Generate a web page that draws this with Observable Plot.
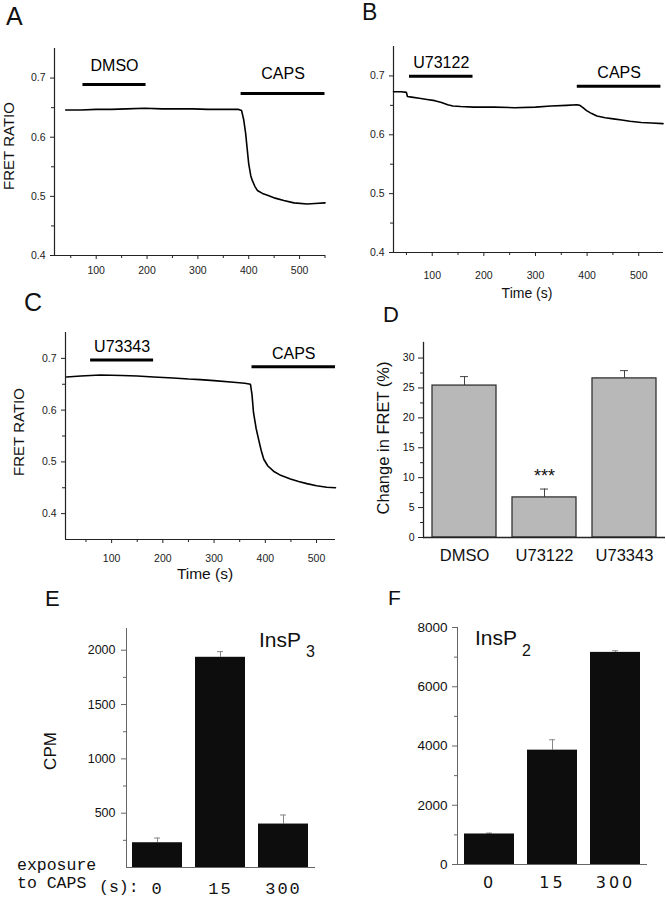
<!DOCTYPE html>
<html><head><meta charset="utf-8">
<script src="https://cdn.jsdelivr.net/npm/d3@7"></script>
<script src="https://cdn.jsdelivr.net/npm/@observablehq/plot@0.6"></script>
<style>
body{margin:0;background:#fff;}
#fig{position:relative;width:666px;height:899px;overflow:hidden;font-family:"Liberation Sans",Arial,sans-serif;color:#111;background:#fff;}
#fig svg{position:absolute;}
.lbl{position:absolute;white-space:nowrap;line-height:1;}
</style></head><body><div id="fig"></div><script>
// ---------- DATA ----------
// Panel A: DMSO then CAPS
const aTime  = [40, 70, 100, 130, 160, 195, 230, 260, 290, 320, 350, 380, 386, 390, 394, 397, 400, 404, 407, 412, 417, 427, 437, 452, 469, 489, 515, 530, 550];
const aRatio = [0.646,0.646,0.647,0.647,0.648,0.649,0.648,0.648,0.648,0.647,0.647,0.647,0.645,0.630,0.606,0.580,0.555,0.535,0.527,0.517,0.510,0.505,0.502,0.497,0.493,0.489,0.487,0.488,0.489];
const aTreat = ["DMSO", "CAPS"];
const aTreatStart = [74, 385];
const aTreatEnd = [198, 550];
const aTreatLevel = [0.689, 0.674];

// Panel B: U73122 then CAPS
const bTime  = [25, 40, 50, 52, 60, 75, 90, 105, 118, 130, 140, 155, 180, 220, 260, 300, 330, 360, 380, 386, 392, 399, 409, 419, 435, 451, 467, 483, 505, 525, 547];
const bRatio = [0.673,0.673,0.672,0.665,0.664,0.662,0.660,0.658,0.655,0.651,0.649,0.648,0.647,0.647,0.646,0.647,0.649,0.650,0.651,0.650,0.646,0.641,0.636,0.632,0.629,0.627,0.625,0.623,0.621,0.620,0.619];
const bTreat = ["U73122", "CAPS"];
const bTreatStart = [56, 381];
const bTreatEnd = [179, 543];
const bTreatLevel = [0.6995, 0.6825];

// Panel C: U73343 then CAPS
const cTime  = [12, 40, 78, 120, 150, 182, 220, 250, 273, 300, 338, 360, 371, 374, 377, 382, 387, 392, 397, 405, 416, 430, 449, 465, 481, 500, 520, 537];
const cRatio = [0.664,0.666,0.668,0.667,0.666,0.664,0.662,0.660,0.659,0.657,0.654,0.652,0.650,0.630,0.595,0.565,0.543,0.522,0.505,0.492,0.482,0.474,0.467,0.462,0.458,0.454,0.451,0.450];
const cTreat = ["U73343", "CAPS"];
const cTreatStart = [59, 374];
const cTreatEnd = [182, 537];
const cTreatLevel = [0.697, 0.684];

const ratioTicks = [0.4, 0.5, 0.6, 0.7];
const ratioMinor = [0.45, 0.55, 0.65];
const timeTicks = [100, 200, 300, 400, 500];
const timeMinor = [50, 150, 250, 350, 450, 550];

// Panel D
const dTreatments = ["DMSO", "U73122", "U73343"];
const dChange = [25.4, 6.7, 26.6];
const dSem = [1.5, 1.4, 1.3];
const dSignif = ["", "***", ""];
const dTicks = [0, 5, 10, 15, 20, 25, 30];
const dMinor = [2.5, 7.5, 12.5, 17.5, 22.5, 27.5];

// Panel E: InsP3
const exposure = ["0", "15", "300"];
const insP3 = [228, 1935, 400];
const insP3Err = [43, 52, 83];
const insP3Ticks = [500, 1000, 1500, 2000];
const insP3Minor = [250, 750, 1250, 1750];

// Panel F: InsP2
const insP2 = [1030, 3860, 7160];
const insP2Err = [30, 350, 55];
const insP2Ticks = [0, 2000, 4000, 6000, 8000];
const insP2Minor = [1000, 3000, 5000, 7000];

// ---------- HELPERS ----------
const fig = document.getElementById("fig");
const FONT = '"Liberation Sans", Arial, Helvetica, sans-serif';
const MONO = '"Liberation Mono", "Courier New", monospace';

function margins(box, frame) {
  return {
    width: box.w, height: box.h,
    marginLeft: frame[0] - box.left,
    marginRight: box.left + box.w - frame[1],
    marginTop: frame[2] - box.top,
    marginBottom: box.top + box.h - frame[3]
  };
}
function place(svg, box) {
  svg.style.position = "absolute";
  svg.style.left = box.left + "px";
  svg.style.top = box.top + "px";
  svg.style.maxWidth = "none";
  fig.appendChild(svg);
  return svg;
}
function addText(html, x, baseline, size, opt = {}) {
  const d = document.createElement("div");
  d.className = "lbl";
  d.innerHTML = html;
  const mono = opt.mono;
  const k = mono ? 0.7665 : 0.8465;
  d.style.fontSize = size + "px";
  if (mono) d.style.fontFamily = MONO;
  d.style.left = x + "px";
  d.style.top = (baseline - k * size) + "px";
  if (opt.center) d.style.transform = "translateX(-50%)";
  if (opt.style) Object.assign(d.style, opt.style);
  fig.appendChild(d);
}
function addRotated(text, cx, cy, size) {
  const d = document.createElement("div");
  d.className = "lbl";
  d.textContent = text;
  d.style.fontSize = size + "px";
  d.style.left = cx + "px";
  d.style.top = cy + "px";
  d.style.transform = "translate(-50%,-50%) rotate(-90deg)";
  fig.appendChild(d);
}

function tracePanel(o) {
  const pts = o.t.map((t, i) => ({t, v: o.v[i]}));
  const bars = o.labels.map((label, i) => ({label, x1: o.start[i], x2: o.end[i], y: o.level[i]}));
  const inX = d => d >= o.xDomain[0] && d <= o.xDomain[1];
  return Plot.plot({
    ...margins(o.box, o.frame),
    style: {fontFamily: FONT, fontSize: "10.5px", color: "#222", background: "transparent", overflow: "visible"},
    x: {domain: o.xDomain, label: null},
    y: {domain: o.yDomain, label: null},
    marks: [
      Plot.ruleX([o.xDomain[0]], {stroke: "#222", strokeWidth: 1.2}),
      Plot.ruleY([o.yDomain[0]], {stroke: "#222", strokeWidth: 1.2}),
      Plot.axisY(ratioTicks, {tickSize: 4, tickPadding: 5, tickFormat: ".1f", label: null, stroke: "#222", fontSize: 10.5}),
      Plot.axisY(ratioMinor, {tickSize: 3, tickFormat: () => "", label: null, stroke: "#222"}),
      Plot.axisX(timeTicks.filter(inX), {tickSize: 4, tickPadding: o.xPad, tickFormat: "d", label: null, stroke: "#222", fontSize: 10.5}),
      Plot.axisX(timeMinor.filter(inX), {tickSize: 3, tickFormat: () => "", label: null, stroke: "#222"}),
      Plot.line(pts, {x: "t", y: "v", stroke: "#000", strokeWidth: 1.6}),
      Plot.ruleY(bars, {x1: "x1", x2: "x2", y: "y", stroke: "#000", strokeWidth: 3}),
      Plot.text(bars, {x: d => (d.x1 + d.x2) / 2, y: "y", text: "label", dy: -o.labelGap, lineAnchor: "bottom", fontSize: 16, fill: "#000"})
    ]
  });
}

function barPanel(o) {
  const rows = o.cats.map((c, i) => ({c, v: o.vals[i], top: o.vals[i] + o.errs[i], s: o.signif ? o.signif[i] : ""}));
  const svg = Plot.plot({
    ...margins(o.box, o.frame),
    style: {fontFamily: FONT, fontSize: o.yFont + "px", color: "#111", background: "transparent", overflow: "visible"},
    x: {domain: o.cats, paddingInner: 0.2, paddingOuter: 0.1, label: null},
    y: {domain: o.yDomain, label: null},
    marks: [
      Plot.ruleX(rows, {x: "c", y1: "v", y2: "top", stroke: o.errColor, strokeWidth: 1}),
      Plot.tickY(rows, {x: "c", y: "top", stroke: o.errColor, strokeWidth: 1, insetLeft: o.capInset, insetRight: o.capInset}),
      Plot.barY(rows, {x: "c", y: "v", fill: o.fill, stroke: o.barStroke, strokeWidth: o.barStrokeWidth}),
      Plot.text(rows, {x: "c", y: "top", text: "s", dy: -7, lineAnchor: "bottom", fontSize: 18, fill: "#111"}),
      Plot.frame({anchor: "left", stroke: o.axisColor, strokeWidth: o.axisWidth}),
      Plot.ruleY([0], {stroke: o.axisColor, strokeWidth: o.axisWidth}),
      Plot.axisY(o.ticks, {tickSize: 5, tickPadding: o.yPad, tickFormat: "d", label: null, stroke: o.axisColor, fill: "#111", fontSize: o.yFont}),
      Plot.axisY(o.minor, {tickSize: 3, tickFormat: () => "", label: null, stroke: o.axisColor}),
      Plot.axisX({tickSize: 0, tickPadding: o.xPad, label: null, fontSize: o.xFont, fontFamily: o.xFamily, fill: "#111"})
    ]
  });
  if (o.letterSpacing) {
    svg.querySelectorAll('g[aria-label="x-axis tick label"] text').forEach(t => t.setAttribute("letter-spacing", o.letterSpacing));
  }
  return svg;
}

// ---------- PANELS ----------
const boxA = {left: 0, top: 0, w: 340, h: 285};
place(tracePanel({box: boxA, frame: [54, 325, 48, 255], t: aTime, v: aRatio, xDomain: [18, 551], yDomain: [0.4, 0.75],
  labels: aTreat, start: aTreatStart, end: aTreatEnd, level: aTreatLevel, labelGap: 14, xPad: 7}), boxA);

const boxB = {left: 340, top: 0, w: 326, h: 300};
place(tracePanel({box: boxB, frame: [393, 663, 46, 252], t: bTime, v: bRatio, xDomain: [25, 548], yDomain: [0.4, 0.75],
  labels: bTreat, start: bTreatStart, end: bTreatEnd, level: bTreatLevel, labelGap: 8, xPad: 15}), boxB);

const boxC = {left: 0, top: 285, w: 340, h: 310};
place(tracePanel({box: boxC, frame: [65, 335, 332, 539], t: cTime, v: cRatio, xDomain: [10, 537], yDomain: [0.35, 0.75],
  labels: cTreat, start: cTreatStart, end: cTreatEnd, level: cTreatLevel, labelGap: 8, xPad: 11}), boxC);

const boxD = {left: 340, top: 300, w: 326, h: 290};
place(barPanel({box: boxD, frame: [423, 665, 342, 537], cats: dTreatments, vals: dChange, errs: dSem, signif: dSignif,
  yDomain: [0, 32.6], ticks: dTicks, minor: dMinor, fill: "#b8b8b8", barStroke: "#333", barStrokeWidth: 1.3,
  errColor: "#444", capInset: 28, axisColor: "#222", axisWidth: 1.3, yFont: 10.5, yPad: 4, xPad: 12, xFont: 16.5, xFamily: FONT}), boxD);

const boxE = {left: 0, top: 595, w: 340, h: 304};
place(barPanel({box: boxE, frame: [126, 315, 628, 867], cats: exposure, vals: insP3, errs: insP3Err,
  yDomain: [0, 2200], ticks: insP3Ticks, minor: insP3Minor, fill: "#0d0d0d", barStroke: "none", barStrokeWidth: 0,
  errColor: "#888", capInset: 22, axisColor: "#666", axisWidth: 1, yFont: 12.5, yPad: 6, xPad: 14, xFont: 17, xFamily: MONO, letterSpacing: 2}), boxE);

const boxF = {left: 340, top: 590, w: 326, h: 309};
place(barPanel({box: boxF, frame: [457, 647, 627, 864], cats: exposure, vals: insP2, errs: insP2Err,
  yDomain: [0, 8000], ticks: insP2Ticks, minor: insP2Minor, fill: "#0d0d0d", barStroke: "none", barStrokeWidth: 0,
  errColor: "#888", capInset: 22, axisColor: "#666", axisWidth: 1, yFont: 13.5, yPad: 5, xPad: 12, xFont: 16, xFamily: '"DejaVu Sans", sans-serif', letterSpacing: 3}), boxF);

// ---------- TEXT ----------
addText("A", 6, 25, 25);
addText("B", 362, 20, 23);
addText("C", 24, 311, 25);
addText("D", 383, 323, 22);
addText("E", 45, 607, 22);
addText("F", 388, 605, 21);

addRotated("FRET RATIO", 8, 146, 15);
addRotated("FRET RATIO", 18, 432, 15);
addRotated("Change in FRET (%)", 383, 438, 16.5);
addRotated("CPM", 50, 751, 17);

addText("Time (s)", 527, 298, 14, {center: true});
addText("Time (s)", 205, 579, 15.5, {center: true});

addText("InsP", 259, 647, 21);
addText("3", 306, 658, 16);
addText("InsP", 475, 645, 21);
addText("2", 522, 657, 16);

addText("exposure", 17, 871, 16.5, {mono: true});
addText("to CAPS", 17, 889, 16.5, {mono: true});
addText("(s):", 99, 893, 16.5, {mono: true});
</script></body></html>
